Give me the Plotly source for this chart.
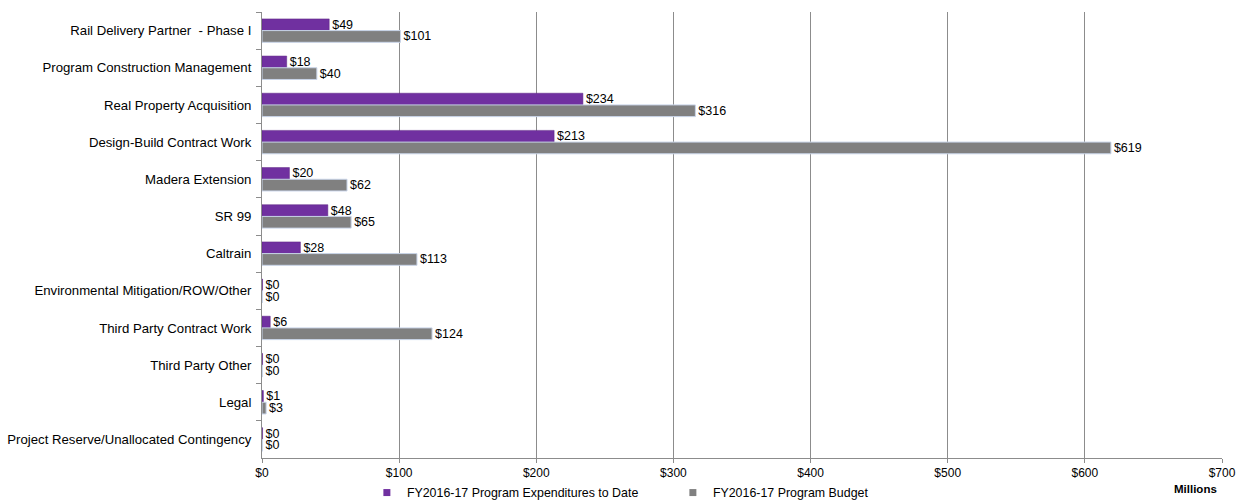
import plotly.graph_objects as go

categories = [
    "Rail Delivery Partner  - Phase I",
    "Program Construction Management",
    "Real Property Acquisition",
    "Design-Build Contract Work",
    "Madera Extension",
    "SR 99",
    "Caltrain",
    "Environmental Mitigation/ROW/Other",
    "Third Party Contract Work",
    "Third Party Other",
    "Legal",
    "Project Reserve/Unallocated Contingency",
]
expenditures = [49, 18, 234, 213, 20, 48, 28, 0.4, 6, 0.4, 1, 0.4]
budget = [101, 40, 316, 619, 62, 65, 113, 0.4, 124, 0.4, 3, 0.4]
series_names = ["FY2016-17 Program Expenditures to Date", "FY2016-17 Program Budget"]
tick_vals = [0, 100, 200, 300, 400, 500, 600, 700]
tick_text = ["$0", "$100", "$200", "$300", "$400", "$500", "$600", "$700"]

font_family = "Liberation Sans, Arial, sans-serif"
PURPLE = "#7030A0"
GRAY = "#808080"

fig = go.Figure()
fig.add_trace(go.Bar(
    y=categories, x=expenditures, orientation="h",
    name=series_names[0], showlegend=False,
    marker=dict(color=PURPLE, line=dict(color="#5a2080", width=0.5)),
    text=[f"${v:.0f}" for v in expenditures], textposition="outside",
    constraintext="none",
    textfont=dict(size=12.5, color="#000000", family=font_family),
    cliponaxis=False,
))
fig.add_trace(go.Bar(
    y=categories, x=budget, orientation="h",
    name=series_names[1], showlegend=False,
    marker=dict(color=GRAY, line=dict(color="#c8d4e8", width=1)),
    text=[f"${v:.0f}" for v in budget], textposition="outside",
    constraintext="none",
    textfont=dict(size=12.5, color="#000000", family=font_family),
    cliponaxis=False,
))
# legend proxies (small square markers)
for nm, col in zip(series_names, [PURPLE, GRAY]):
    fig.add_trace(go.Scatter(x=[None], y=[None], mode="markers", name=nm,
                             marker=dict(symbol="square", size=7, color=col)))

plot_w = 1241 - 262 - 19
plot_h = 504 - 12 - 46

fig.update_layout(
    width=1241, height=504,
    margin=dict(l=262, r=19, t=12, b=46, autoexpand=False),
    paper_bgcolor="white", plot_bgcolor="white",
    barmode="group", bargap=0.37, bargroupgap=0.0,
    font=dict(family=font_family, size=12, color="#000000"),
    showlegend=True,
    legend=dict(orientation="h", x=0.428, xanchor="center", yref="paper",
                y=-(493 - 458) / plot_h, yanchor="middle",
                font=dict(size=12.4), traceorder="normal", itemwidth=30,
                entrywidth=261, entrywidthmode="pixels",
                bgcolor="rgba(0,0,0,0)", tracegroupgap=0),
    xaxis=dict(range=[0, 700], tickvals=tick_vals, ticktext=tick_text,
               showgrid=True, gridcolor="#8c8c8c", gridwidth=1,
               showline=True, linecolor="#8c8c8c", linewidth=1,
               ticks="outside", ticklen=4, tickcolor="#8c8c8c",
               tickfont=dict(size=12), zeroline=False),
    yaxis=dict(autorange="reversed", showline=True, linecolor="#8c8c8c", linewidth=1,
               ticks="outside", ticklen=5, tickcolor="#8c8c8c", tickson="boundaries",
               ticklabelstandoff=7,
               tickfont=dict(size=13.2), showgrid=False),
)
fig.add_annotation(text="<b>Millions</b>", xref="paper", yref="paper",
                   x=(1195 - 262) / plot_w, y=(504 - 46 - 489) / plot_h,
                   xanchor="center", yanchor="middle", showarrow=False,
                   font=dict(size=11.5))

fig.write_html("out.html")
